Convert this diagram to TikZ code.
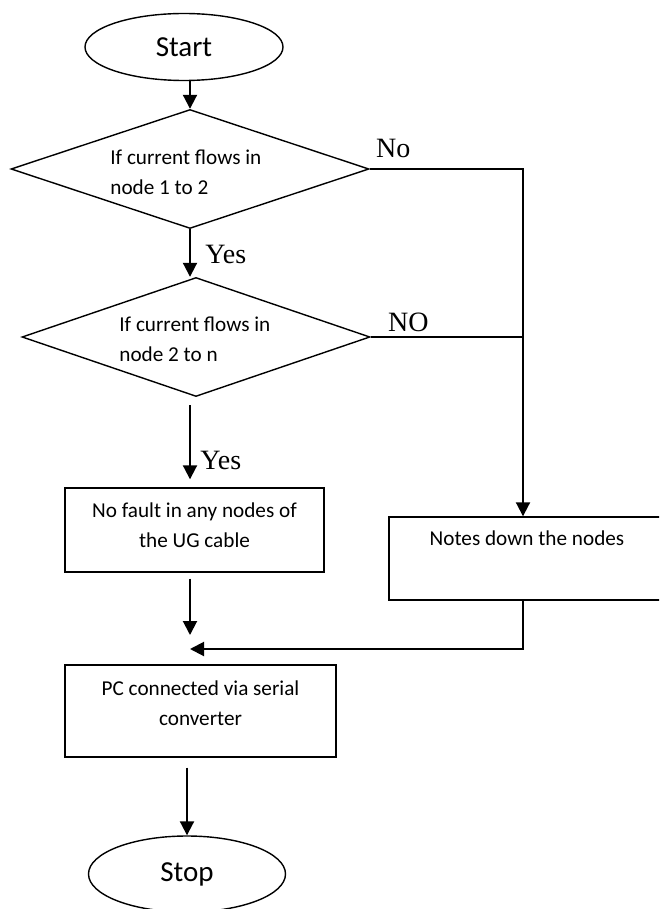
\documentclass[tikz,border=0pt]{standalone}
\usepackage{fontspec}
\setmainfont{Carlito}
\newfontfamily\lblfont{Liberation Serif}
\usetikzlibrary{positioning}
\usetikzlibrary{shapes.geometric}
\usetikzlibrary{arrows.meta}

\tikzset{
  terminal/.style={draw, ellipse, line width=0.7pt, inner sep=0pt, font=\fontsize{14.5}{17}\selectfont},
  decision/.style={draw, diamond, line width=0.7pt, inner sep=0pt, aspect=3},
  procbox/.style={draw, rectangle, line width=0.7pt, inner sep=0pt},
  boxtxt/.style={inner sep=0pt, align=center, font=\fontsize{10.6}{15}\selectfont},
  dtxt/.style={inner sep=0pt, align=left, anchor=north west, font=\fontsize{10.6}{15}\selectfont},
  lbl/.style={inner sep=0pt, anchor=base west, font=\lblfont\fontsize{14}{16}\selectfont},
  link/.style={line width=1pt},
  arr/.style={link, -{Triangle[length=7pt,width=7pt]}}
}

\begin{document}
\begin{tikzpicture}[x=0.5pt, y=-0.5pt]
%frame
\clip (0,0) rectangle (659,909);
%terminals
\node[terminal, minimum width=99pt, minimum height=33.5pt] (start) at (184,47) {Start};
\node[terminal, minimum width=98.5pt, minimum height=38pt] (stop) at (187,874) {Stop};
%decisions
\node[decision, minimum width=179pt, minimum height=59.5pt] (d1) at (190,169) {};
\node[decision, minimum width=174pt, minimum height=59.5pt] (d2) at (196,337) {};
\node[dtxt] (d1txt) at ([shift={(-80,-19)}]d1) {If current flows in\\node 1 to 2};
\node[dtxt] (d2txt) at ([shift={(-77,-20)}]d2) {If current flows in\\node 2 to n};
%boxes
\node[procbox, minimum width=129.5pt, minimum height=42pt] (nofault) at (194.5,530) {};
\node[procbox, minimum width=138pt, minimum height=41.5pt] (notes) at (527,558.5) {};
\node[procbox, minimum width=135.5pt, minimum height=46pt] (pc) at (200.5,711) {};
\node[boxtxt, below=7.5pt of nofault.north] (nofaulttxt) {No fault in any nodes of\\the UG cable};
\node[boxtxt, below=7pt of notes.north] (notestxt) {Notes down the nodes};
\node[boxtxt, below=8pt of pc.north] (pctxt) {PC connected via serial\\converter};
%labels
\node[lbl] (no1) at ([shift={(6,-11)}]d1.east) {No};
\node[lbl] (no2) at ([shift={(17,-6)}]d2.east) {NO};
\node[lbl] (yes1) at ([shift={(15,34)}]d1.south) {Yes};
\node[lbl] (yes2) at ([shift={(4,72)}]d2.south) {Yes};
%helper points
\coordinate (bus) at ([xshift=-2pt]notes.north);
\coordinate (joint) at (190,649);
%main line
\draw[arr] (start.south -| d1.north) -- (d1.north);
\draw[arr] (d1.south) -- (d1.south |- d2.north);
\draw[arr, shorten <=4pt, shorten >=4pt] (d1.south |- d2.south) -- (d1.south |- nofault.north);
\draw[arr, shorten <=3pt, shorten >=7pt] (d1.south |- nofault.south) -- (joint);
\draw[arr, shorten <=5pt] (pc.south -| stop.north) -- (stop.north);
%no branch
\draw[arr] (d1.east) -| (bus);
\draw[link] (d2.east) -- (d2.east -| bus);
\draw[arr] (bus |- notes.south) |- (joint);
\end{tikzpicture}
\end{document}
